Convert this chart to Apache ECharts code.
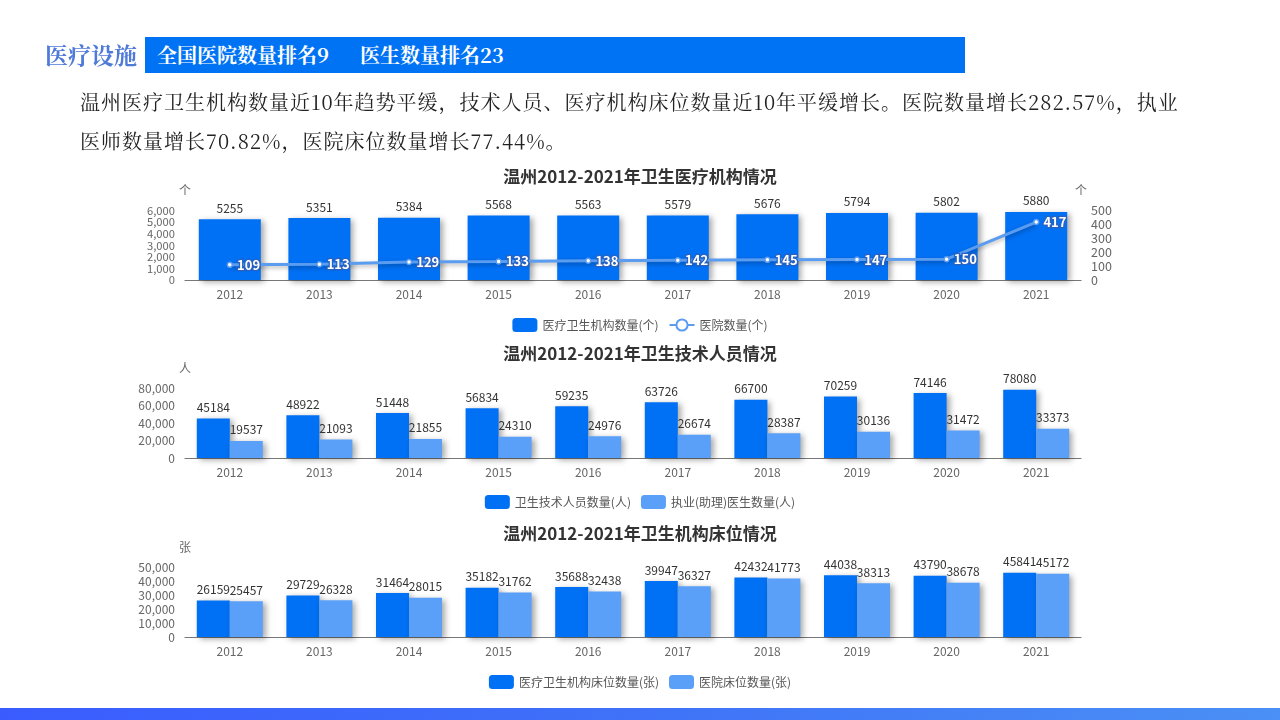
<!DOCTYPE html>
<html>
<head>
<meta charset="utf-8">
<script src="https://cdn.jsdelivr.net/npm/echarts@6/dist/echarts.min.js"></script>
<style>
  html,body{margin:0;padding:0;width:1280px;height:720px;overflow:hidden;background:#fff;}
  #chart{position:absolute;left:0;top:0;width:1280px;height:720px;}
  .serif{font-family:"Noto Serif CJK SC","Noto Sans CJK SC","DejaVu Serif",serif;}
  #sec{position:absolute;left:45px;top:37px;height:36px;line-height:36px;font-size:23px;font-weight:bold;color:#4f7ad8;z-index:2;}
  #box{position:absolute;left:145px;top:37px;width:820px;height:36px;background:#0073f5;z-index:2;}
  #box span{position:absolute;top:0;line-height:36px;font-size:20px;font-weight:bold;color:#fff;white-space:pre;}
  #para{position:absolute;left:80px;top:82px;width:1150px;font-size:20px;line-height:39px;letter-spacing:1px;color:#222;z-index:2;white-space:nowrap;}
  #bottom{position:absolute;left:0;top:708px;width:1280px;height:12px;background:linear-gradient(90deg,#3a5cff 0%,#3f72f8 50%,#4a90f5 100%);z-index:2;}
</style>
</head>
<body>
<div id="chart"></div>
<div id="sec" class="serif">医疗设施</div>
<div id="box" class="serif"><span style="left:12px">全国医院数量排名9</span><span style="left:215px">医生数量排名23</span></div>
<div id="para" class="serif">温州医疗卫生机构数量近10年趋势平缓，技术人员、医疗机构床位数量近10年平缓增长。医院数量增长282.57%，执业<br>医师数量增长70.82%，医院床位数量增长77.44%。</div>
<div id="bottom"></div>
<script>
const years = ['2012','2013','2014','2015','2016','2017','2018','2019','2020','2021'];
const institutions = [5255,5351,5384,5568,5563,5579,5676,5794,5802,5880];
const hospitals = [109,113,129,133,138,142,145,147,150,417];
const techStaff = [45184,48922,51448,56834,59235,63726,66700,70259,74146,78080];
const doctors = [19537,21093,21855,24310,24976,26674,28387,30136,31472,33373];
const instBeds = [26159,29729,31464,35182,35688,39947,42432,44038,43790,45841];
const hospBeds = [25457,26328,28015,31762,32438,36327,41773,38313,38678,45172];

const titles = ['温州2012-2021年卫生医疗机构情况','温州2012-2021年卫生技术人员情况','温州2012-2021年卫生机构床位情况'];
const names1 = ['医疗卫生机构数量(个)','医院数量(个)'];
const names2 = ['卫生技术人员数量(人)','执业(助理)医生数量(人)'];
const names3 = ['医疗卫生机构床位数量(张)','医院床位数量(张)'];

const FONT = '"Noto Sans CJK SC","Noto Sans",sans-serif';
const DARK = '#0070f4';
const LIGHT = '#5aa0f8';
const LINEC = '#5a9cf0';

const chart = echarts.init(document.getElementById('chart'));

const shadow = {shadowColor:'rgba(0,0,0,0.35)',shadowBlur:6,shadowOffsetX:3,shadowOffsetY:2};

function xAx(gi){
  return {type:'category',gridIndex:gi,data:years,
    axisLine:{lineStyle:{color:'#777',width:1.2}},axisTick:{show:false},
    axisLabel:{color:'#666',fontSize:12,fontFamily:FONT,margin:8}};
}
function yAx(gi,max,interval,name,pos,fs){
  return {type:'value',gridIndex:gi,min:0,max:max,interval:interval,position:pos||'left',
    name:name,nameGap:14,nameTextStyle:{color:'#666',fontSize:12,fontFamily:FONT},
    axisLine:{show:false},axisTick:{show:false},splitLine:{show:false},
    axisLabel:{color:'#666',fontSize:fs||12,fontFamily:FONT,margin:10,
      showMinLabel:true,showMaxLabel:true,hideOverlap:false}};
}
const barLabel = {show:true,position:'top',color:'#333',fontSize:12,fontFamily:FONT,distance:5};

const option = {
  animation:false,
  textStyle:{fontFamily:FONT},
  title:[
    {text:titles[0],left:'center',top:163,textStyle:{fontSize:17,fontWeight:'bold',color:'#333',fontFamily:FONT}},
    {text:titles[1],left:'center',top:340,textStyle:{fontSize:17,fontWeight:'bold',color:'#333',fontFamily:FONT}},
    {text:titles[2],left:'center',top:520,textStyle:{fontSize:17,fontWeight:'bold',color:'#333',fontFamily:FONT}}
  ],
  legend:[
    {data:[{name:names1[0],icon:'roundRect'},names1[1]],left:'center',top:313,itemWidth:25,itemHeight:14,itemGap:10,
      textStyle:{color:'#555',fontSize:12,fontFamily:FONT}},
    {data:names2,icon:'roundRect',left:'center',top:490,itemWidth:25,itemHeight:14,itemGap:10,
      textStyle:{color:'#555',fontSize:12,fontFamily:FONT}},
    {data:names3,icon:'roundRect',left:'center',top:670,itemWidth:25,itemHeight:14,itemGap:10,
      textStyle:{color:'#555',fontSize:12,fontFamily:FONT}}
  ],
  grid:[
    {left:185,width:896,top:210.5,height:69.5},
    {left:185,width:896,top:388,height:70},
    {left:185,width:896,top:567,height:70}
  ],
  xAxis:[xAx(0),xAx(1),xAx(2)],
  yAxis:[
    yAx(0,6000,1000,'个','left',11.2),
    yAx(0,500,100,'个','right',12.5),
    yAx(1,80000,20000,'人'),
    yAx(2,50000,10000,'张')
  ],
  series:[
    {name:names1[0],type:'bar',xAxisIndex:0,yAxisIndex:0,data:institutions,barWidth:62,
      itemStyle:Object.assign({color:DARK},shadow),label:barLabel},
    {name:names1[1],type:'line',xAxisIndex:0,yAxisIndex:1,data:hospitals,
      symbol:'circle',symbolSize:5,
      itemStyle:{color:'#fff',borderColor:LINEC,borderWidth:1.5},
      lineStyle:{color:LINEC,width:3,shadowColor:'rgba(0,0,0,0.3)',shadowBlur:4,shadowOffsetY:2},
      label:{show:true,position:'right',distance:4,color:'#fff',fontSize:13,fontWeight:'bold',fontFamily:FONT,
        textBorderColor:'#2a62c0',textBorderWidth:2.5}},
    {name:names2[0],type:'bar',xAxisIndex:1,yAxisIndex:2,data:techStaff,barWidth:33,barGap:'0%',
      itemStyle:Object.assign({color:DARK},shadow),label:barLabel},
    {name:names2[1],type:'bar',xAxisIndex:1,yAxisIndex:2,data:doctors,barWidth:33,barGap:'0%',
      itemStyle:Object.assign({color:LIGHT},shadow),label:barLabel},
    {name:names3[0],type:'bar',xAxisIndex:2,yAxisIndex:3,data:instBeds,barWidth:33,barGap:'0%',
      itemStyle:Object.assign({color:DARK},shadow),label:barLabel},
    {name:names3[1],type:'bar',xAxisIndex:2,yAxisIndex:3,data:hospBeds,barWidth:33,barGap:'0%',
      itemStyle:Object.assign({color:LIGHT},shadow),label:barLabel}
  ]
};
chart.setOption(option);
</script>
</body>
</html>
